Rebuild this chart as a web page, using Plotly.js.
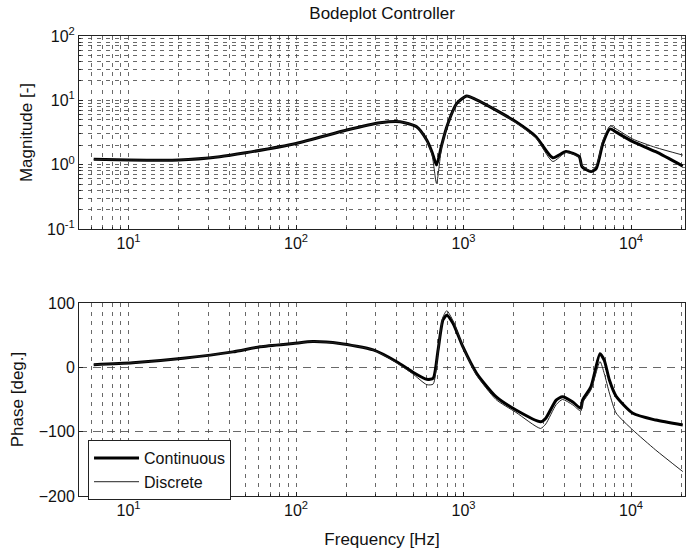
<!DOCTYPE html>
<html>
<head>
<meta charset="utf-8">
<script src="https://cdn.plot.ly/plotly-3.0.1.min.js"></script>
<style>html,body{margin:0;padding:0;background:#fff;}#chart{width:686px;height:553px;}</style>
</head>
<body>
<div id="chart"></div>
<script>
// Magnitude data (frequency in Hz, magnitude [-])
const magFreq = [6.2, 10, 20, 35, 50, 100, 201, 317, 418, 525, 603, 650, 690, 740, 795, 912, 1045, 1189, 1563, 2057, 2710, 3411, 4093, 4910, 5100, 5768, 6200, 6800, 7500, 8150, 10260, 14050, 20370];
const magContinuous = [1.21, 1.18, 1.18, 1.33, 1.53, 2.13, 3.45, 4.48, 4.65, 3.89, 2.42, 1.55, 0.99, 2.0, 3.89, 8.97, 11.7, 10.3, 7.06, 4.65, 2.72, 1.28, 1.6, 1.33, 0.93, 0.78, 0.87, 2.15, 3.6, 3.2, 2.28, 1.59, 0.95];
const magDiscrete = [1.21, 1.18, 1.18, 1.33, 1.53, 2.13, 3.45, 4.48, 4.65, 3.89, 2.4, 1.4, 0.51, 1.85, 3.89, 8.97, 11.7, 10.3, 7.06, 4.5, 2.6, 1.12, 1.55, 1.3, 0.95, 0.8, 0.95, 2.4, 3.99, 3.6, 2.5, 1.85, 1.41];

// Phase data (frequency in Hz, phase [deg.])
const phaseFreq = [6.2, 10.6, 21.2, 42, 61, 96, 126, 183, 289, 399, 497, 604, 659, 705, 754, 795, 867, 991, 1197, 1563, 2057, 2885, 3100, 3575, 3900, 4470, 5020, 5140, 5770, 6530, 6930, 7430, 8150, 10260, 14050, 20370];
const phaseContinuous = [4, 7, 14, 24, 32, 37, 40, 37, 27, 8.7, -7.3, -18.7, -17, 27, 73.6, 81, 68, 32, -9.3, -45.7, -66.4, -84.6, -79, -50.9, -45.7, -53.5, -63.8, -51, -30, 21, 10.6, -19.8, -45, -71.5, -82, -89.7];
const phaseDiscrete = [4, 7, 14, 24, 32, 37, 40, 37, 27, 7, -10, -27, -26, 25, 78, 88, 72, 32, -12, -50, -70, -95, -88, -58, -50, -58, -68, -55, -35, 9, -10, -40, -71, -97.5, -128.6, -162];

const seriesNames = ['Continuous', 'Discrete'];
const magTickVals = [0.1, 1, 10, 100];
const magTickText = ['10<sup>-1</sup>', '10<sup>0</sup>', '10<sup>1</sup>', '10<sup>2</sup>'];
const freqTickVals = [10, 100, 1000, 10000];
const freqTickText = ['10<sup>1</sup>', '10<sup>2</sup>', '10<sup>3</sup>', '10<sup>4</sup>'];
const phaseTickVals = [-200, -100, 0, 100];

// minor grid positions (2..9 per decade)
const fMinor = [];
[1, 10, 100, 1000, 10000].forEach(d => { for (let k = 2; k <= 9; k++) { const v = k * d; if (v >= 5 && v <= 21000) fMinor.push(v); } });
const mMinor = [];
[0.1, 1, 10].forEach(d => { for (let k = 2; k <= 9; k++) mMinor.push(k * d); });

const font = 'Liberation Sans, Arial, sans-serif';
const gridCol = '#444';
const minorStyle = (vals) => ({tickvals: vals, showgrid: true, gridcolor: gridCol, gridwidth: 0.8, griddash: '4px,5px', ticks: 'inside', ticklen: 2, tickcolor: '#222'});
const xBase = {
  type: 'log', range: [0.7045, 4.3224], tickvals: freqTickVals, ticktext: freqTickText,
  showgrid: true, gridcolor: gridCol, gridwidth: 0.8, griddash: '4px,5px',
  minor: minorStyle(fMinor),
  showline: true, mirror: true, linecolor: '#222', linewidth: 1,
  ticks: 'inside', ticklen: 4, tickcolor: '#222', zeroline: false,
  tickfont: {family: font, size: 16, color: '#111'}
};

const traces = [
  {x: magFreq, y: magContinuous, xaxis: 'x', yaxis: 'y', mode: 'lines', line: {color: '#000', width: 3, shape: 'spline', smoothing: 0.6}, name: seriesNames[0], showlegend: false},
  {x: magFreq, y: magDiscrete, xaxis: 'x', yaxis: 'y', mode: 'lines', line: {color: '#222', width: 1, shape: 'spline', smoothing: 0.6}, name: seriesNames[1], showlegend: false},
  {x: phaseFreq, y: phaseContinuous, xaxis: 'x2', yaxis: 'y2', mode: 'lines', line: {color: '#000', width: 3, shape: 'spline', smoothing: 0.6}, name: seriesNames[0]},
  {x: phaseFreq, y: phaseDiscrete, xaxis: 'x2', yaxis: 'y2', mode: 'lines', line: {color: '#222', width: 1, shape: 'spline', smoothing: 0.6}, name: seriesNames[1]}
];

const layout = {
  width: 686, height: 553,
  margin: {l: 79, r: 1, t: 36, b: 57},
  paper_bgcolor: '#fff', plot_bgcolor: '#fff',
  font: {family: font, color: '#111'},
  title: {text: 'Bodeplot Controller', font: {family: font, size: 17, color: '#111'}, x: 0.557, xanchor: 'center', y: 0.977, yanchor: 'middle'},
  xaxis: Object.assign({}, xBase, {anchor: 'y'}),
  yaxis: {
    type: 'log', range: [-1, 2], domain: [0.5804, 1], tickvals: magTickVals, ticktext: magTickText,
    showgrid: true, gridcolor: gridCol, gridwidth: 0.8, griddash: '4px,5px',
    minor: minorStyle(mMinor),
    showline: true, mirror: true, linecolor: '#222', linewidth: 1,
    ticks: 'inside', ticklen: 4, tickcolor: '#222',
    tickfont: {family: font, size: 16, color: '#111'},
    title: {text: 'Magnitude [-]', font: {family: font, size: 17, color: '#111'}, standoff: 10}
  },
  xaxis2: Object.assign({}, xBase, {anchor: 'y2', title: {text: 'Frequency [Hz]', font: {family: font, size: 17, color: '#111'}, standoff: 14}}),
  yaxis2: {
    range: [-200, 100], domain: [0, 0.4196], tickvals: phaseTickVals,
    showgrid: true, gridcolor: gridCol, gridwidth: 0.8, griddash: '8px,6px', zeroline: false,
    showline: true, mirror: true, linecolor: '#222', linewidth: 1,
    ticks: 'inside', ticklen: 4, tickcolor: '#222',
    tickfont: {family: font, size: 16, color: '#111'},
    title: {text: 'Phase [deg.]', font: {family: font, size: 17, color: '#111'}, standoff: 10}
  },
  legend: {
    x: 0.0149, y: 0.1217, xanchor: 'left', yanchor: 'top',
    bgcolor: '#fff', bordercolor: '#222', borderwidth: 1,
    font: {family: font, size: 16, color: '#111'}, tracegroupgap: 0,
    itemwidth: 45
  },
  showlegend: true
};

Plotly.newPlot('chart', traces, layout, {staticPlot: true, displayModeBar: false});
</script>
</body>
</html>
